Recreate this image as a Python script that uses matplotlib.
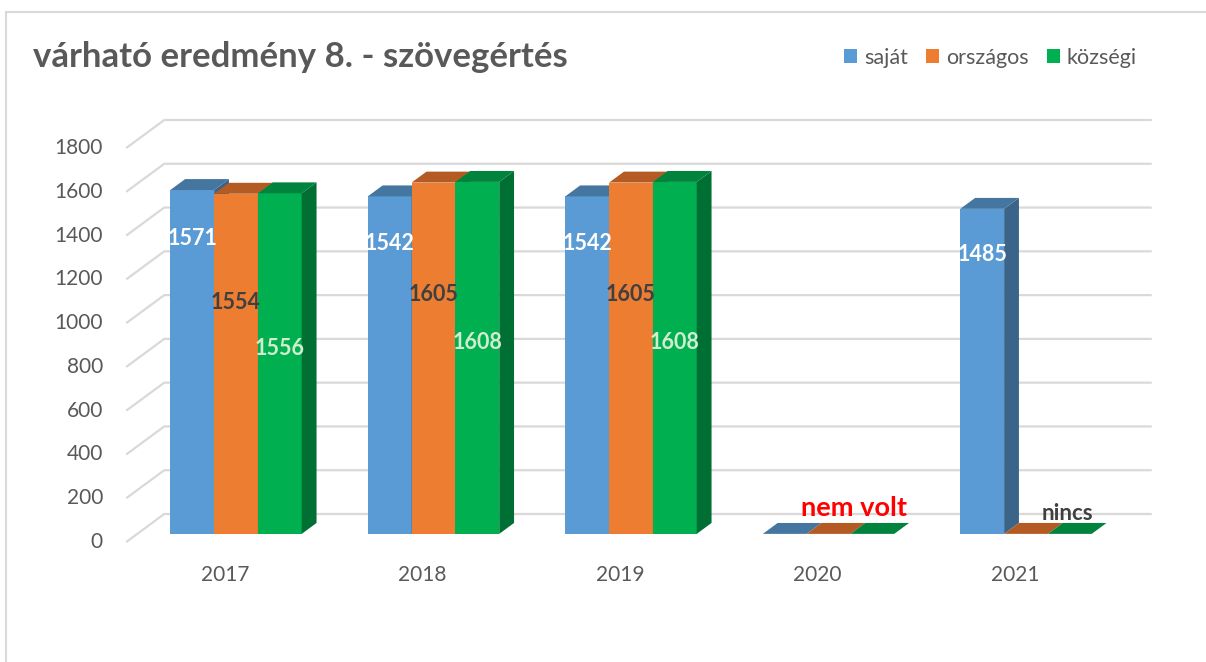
import matplotlib
matplotlib.use('Agg')
import matplotlib.pyplot as plt
from matplotlib.patches import Polygon, Rectangle, Patch

plt.rcParams['font.family'] = ['Lato', 'DejaVu Sans']

# data
years = ['2017', '2018', '2019', '2020', '2021']
series = ['saját', 'országos', 'községi']
sajat = [1571, 1542, 1542, 0, 1485]
orszagos = [1554, 1605, 1605, 0, 0]
kozsegi = [1556, 1608, 1608, 0, 0]
yticks = [0, 200, 400, 600, 800, 1000, 1200, 1400, 1600, 1800]
title = 'várható eredmény 8. - szövegértés'

face = ['#5b9bd5', '#ed7d31', '#00b050']
top = ['#44769f', '#b35b22', '#00843d']
side = ['#3a6488', '#a0521e', '#006f33']
label_col = ['white', '#404040', '#d2ecd0']
label_frac = [0.86, 0.68, 0.545]

W, H = 1206, 662
fig = plt.figure(figsize=(W / 100, H / 100), dpi=100)
ax = fig.add_axes([0, 0, 1, 1])
# pixel mapping: category i -> 225 + 197.5*i, value v -> 542 - 0.21889*v
px_x, px_y = 197.5, 0.21889
ax.set_xlim((0 - 225) / px_x, (W - 225) / px_x)
ax.set_ylim((542 - H) / px_y, 542 / px_y)
ax.axis('off')

# depth of the 3d box
DX, DY = 38 / px_x, 28 / px_y
f0, f1 = 0.29, 0.68
bw = 43.8 / px_x
x0, x1 = -0.5, len(years) - 0.5
grid_c = '#d9d9d9'

for v in yticks:
    ax.plot([x0, x0 + DX, x1 + DX], [v, v + DY, v + DY], color=grid_c, lw=1.6, zorder=1,
            solid_capstyle='butt')
    ax.text(x0 - 0.118, v, str(v), ha='right', va='center', fontsize=15, color='#595959')

for i, yr in enumerate(years):
    ax.text(i, -150, yr, ha='center', va='center', fontsize=15, color='#595959')

sx, sy = f0 * DX, f0 * DY
ddx, ddy = (f1 - f0) * DX, (f1 - f0) * DY
values = [sajat, orszagos, kozsegi]
for i in range(len(years)):
    for s in range(3):
        v = values[s][i]
        xl = i - 1.5 * bw + s * bw + sx
        xr = xl + bw
        yb, yt = sy, v + sy
        if v > 0:
            ax.add_patch(Polygon([(xl, yb), (xr, yb), (xr, yt), (xl, yt)], closed=True,
                                 facecolor=face[s], edgecolor='none', zorder=3))
            ax.add_patch(Polygon([(xr, yb), (xr + ddx, yb + ddy), (xr + ddx, yt + ddy), (xr, yt)],
                                 closed=True, facecolor=side[s], edgecolor='none', zorder=3))
        ax.add_patch(Polygon([(xl, yt), (xr, yt), (xr + ddx, yt + ddy), (xl + ddx, yt + ddy)],
                             closed=True, facecolor=top[s], edgecolor='none', zorder=3))

for i in range(len(years)):
    for s in range(3):
        v = values[s][i]
        if v > 0:
            xc = i - 1.5 * bw + s * bw + sx + bw / 2
            ax.text(xc, v * label_frac[s] + sy, str(v), ha='center', va='center',
                    fontsize=15.5, fontweight='bold', color=label_col[s], zorder=5)

ax.text(3 + 0.185, 155, 'nem volt', ha='center', va='center', fontsize=19.5,
        fontweight='bold', color='#ff0000', zorder=5)
ax.text(4 + 0.263, 132, 'nincs', ha='center', va='center', fontsize=16,
        fontweight='bold', color='#404040', zorder=5)

fig.text(33 / W, 1 - 57 / H, title, ha='left', va='center', fontsize=25,
         fontweight='bold', color='#595959')

handles = [Patch(facecolor=c, edgecolor='none') for c in face]
fig.legend(handles, series, ncol=3, loc='center right', bbox_to_anchor=(1156 / W, 1 - 58 / H),
           frameon=False, fontsize=15.5, handlelength=0.62, handleheight=0.62,
           handletextpad=0.3, columnspacing=0.85, labelcolor='#595959')

fig.patches.append(Rectangle((6 / W, -0.1), 1.5, (H - 12) / H + 0.1, transform=fig.transFigure,
                             fill=False, edgecolor=grid_c, lw=1.5))

plt.savefig('out.png', dpi=100)
